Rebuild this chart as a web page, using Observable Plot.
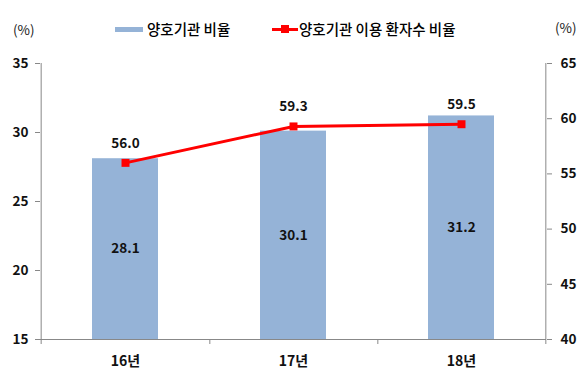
<!DOCTYPE html>
<html>
<head>
<meta charset="utf-8">
<script src="https://cdn.jsdelivr.net/npm/d3@7"></script>
<script src="https://cdn.jsdelivr.net/npm/@observablehq/plot@0.6"></script>
<style>
  html, body { margin: 0; padding: 0; background: #fff; }
  #wrap { position: relative; width: 584px; height: 376px; font-family: "Noto Sans CJK KR", "Noto Sans", sans-serif; }
  #chart { position: absolute; left: 0; top: 0; }
  .unit { position: absolute; font-size: 13.5px; color: #222; line-height: 1; }
  .leg { position: absolute; top: 20px; height: 18px; display: flex; align-items: center; font-size: 14.5px; font-weight: 500; color: #000; line-height: 1; }
  .sw-bar { width: 28px; height: 5px; background: #95B3D7; margin-right: 4px; }
  .sw-line { position: relative; width: 26px; height: 3px; background: #FF0000; margin-right: 1px; }
  .sw-line::after { content: ""; position: absolute; left: 9px; top: -3px; width: 8px; height: 8px; background: #FF0000; }
</style>
</head>
<body>
<div id="wrap">
  <div id="chart"></div>
  <div class="unit" style="left:13px; top:23px;">(%)</div>
  <div class="unit" style="left:555px; top:21px;">(%)</div>
  <div class="leg" style="left:115px;"><span class="sw-bar"></span><span id="leg1"></span></div>
  <div class="leg" style="left:272px;"><span class="sw-line"></span><span id="leg2"></span></div>
</div>
<script>
const categories = ["16년", "17년", "18년"];
const facilityRate = [28.1, 30.1, 31.2];     // 양호기관 비율 (left axis)
const patientRate = [56.0, 59.3, 59.5];      // 양호기관 이용 환자수 비율 (right axis)
const leftTicks = [15, 20, 25, 30, 35];
const rightTicks = [40, 45, 50, 55, 60, 65];
const seriesNames = ["양호기관 비율", "양호기관 이용 환자수 비율"];

document.getElementById("leg1").textContent = seriesNames[0];
document.getElementById("leg2").textContent = seriesNames[1];

const W = 584, H = 376, mL = 40, mR = 38, mT = 63, mB = 37;
const step = (W - mL - mR) / categories.length;
const [l0, l1] = [leftTicks[0], leftTicks[leftTicks.length - 1]];
const [r0, r1] = [rightTicks[0], rightTicks[rightTicks.length - 1]];
const toLeft = v => l0 + (v - r0) * (l1 - l0) / (r1 - r0);
const fromLeft = v => r0 + (v - l0) * (r1 - r0) / (l1 - l0);

const data = categories.map((c, i) => ({cat: c, bar: facilityRate[i], line: patientRate[i]}));

const axisColor = "#888888";
const textStyle = {fontWeight: "bold", fontSize: 13.5, fill: "#111"};

const chart = Plot.plot({
  width: W, height: H,
  marginLeft: mL, marginRight: mR, marginTop: mT, marginBottom: mB,
  style: {fontFamily: "'Noto Sans CJK KR', 'Noto Sans', sans-serif", background: "#fff", overflow: "visible"},
  x: {domain: categories, paddingInner: 0.61, paddingOuter: 0.305, axis: null},
  y: {domain: [l0, l1], axis: null},
  marks: [
    Plot.barY(data, {x: "cat", y1: () => l0, y2: "bar", fill: "#95B3D7"}),
    // axis lines
    Plot.ruleX([categories[0]], {dx: -step / 2, y1: l0, y2: l1, stroke: axisColor}),
    Plot.ruleX([categories[categories.length - 1]], {dx: step / 2, y1: l0, y2: l1, stroke: axisColor}),
    Plot.ruleY([l0], {stroke: axisColor}),
    // x tick marks at category boundaries
    Plot.ruleX(categories, {dx: step / 2, y1: l0, y2: l0, insetBottom: -5, stroke: axisColor}),
    Plot.ruleX([categories[0]], {dx: -step / 2, y1: l0, y2: l0, insetBottom: -5, stroke: axisColor}),
    // left axis
    Plot.axisY({anchor: "left", ticks: leftTicks, tickSize: 5, tickPadding: 7, stroke: axisColor, label: null, ...textStyle}),
    // right axis
    Plot.axisY({anchor: "right", ticks: rightTicks.map(toLeft), tickFormat: d => String(Math.round(fromLeft(d))), tickSize: 5, tickPadding: 9, stroke: axisColor, label: null, ...textStyle}),
    // x axis labels
    Plot.axisX({anchor: "bottom", tickSize: 0, tickPadding: 17, label: null, ...textStyle, fontSize: 14}),
    // bar value labels
    Plot.text(data, {x: "cat", y: d => (l0 + d.bar) / 2, text: d => d.bar.toFixed(1), ...textStyle}),
    // line
    Plot.line(data, {x: "cat", y: d => toLeft(d.line), stroke: "#FF0000", strokeWidth: 3}),
    Plot.dot(data, {x: "cat", y: d => toLeft(d.line), symbol: "square", r: 4.5, fill: "#FF0000", stroke: "none"}),
    Plot.text(data, {x: "cat", y: d => toLeft(d.line), dy: -19.5, text: d => d.line.toFixed(1), ...textStyle})
  ]
});
document.getElementById("chart").appendChild(chart);
</script>
</body>
</html>
